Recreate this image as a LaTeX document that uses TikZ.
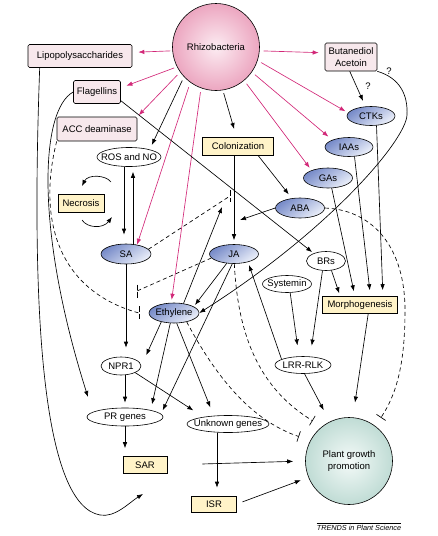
\documentclass[tikz,border=0pt]{standalone}
\usepackage{fontspec}
\setmainfont{Liberation Sans}
\usetikzlibrary{shapes.geometric,arrows.meta,calc}
\definecolor{pk}{RGB}{210,40,120}
\definecolor{pinkfill}{RGB}{247,232,236}
\definecolor{yelfill}{RGB}{255,243,200}
\definecolor{blueA}{RGB}{118,138,200}
\definecolor{blueB}{RGB}{236,240,250}
\definecolor{rzin}{RGB}{252,236,242}
\definecolor{rzout}{RGB}{236,166,192}
\definecolor{pgin}{RGB}{244,250,248}
\definecolor{pgout}{RGB}{192,220,213}
\newcommand{\zb}[1]{\makebox[0pt]{#1}}
\begin{document}
\begin{tikzpicture}[x=1pt,y=-1pt,
  font=\fontsize{9.5}{12}\selectfont,
  every node/.style={inner sep=0pt},
  bx/.style={draw, rectangle, line width=0.6pt, align=center},
  pinkbox/.style={bx, fill=pinkfill, rounded corners=1.5pt},
  yelbox/.style={bx, fill=yelfill},
  el/.style={draw, ellipse, line width=0.6pt},
  wel/.style={el, fill=white},
  blueel/.style={el, top color=blueA, bottom color=blueB, shading angle=35},
  arr/.style={-{Latex[length=6pt,width=4.5pt]}, line width=0.65pt},
  parr/.style={arr, draw=pk},
  dsh/.style={dash pattern=on 4pt off 3pt, line width=0.65pt},
  inh/.style={dsh, -{Bar[width=11pt,line width=0.65pt]}},
  barl/.style={line width=0.65pt, dash pattern=on 5.5pt off 2pt}
]
\useasboundingbox (0,0) rectangle (438,536);

% nodes
\node[circle, draw, line width=0.6pt, minimum size=87pt, inner color=rzin, outer color=rzout] (rhizo) at (216,47) {Rhizobacteria};
\node[pinkbox, minimum width=104pt, minimum height=23pt] (lps) at (80,56) {Lipopolysaccharides};
\node[pinkbox, minimum width=47pt, minimum height=23pt] (flag) at (97,92) {Flagellins};
\node[pinkbox, minimum width=80pt, minimum height=24pt] (acc) at (97,129) {ACC deaminase};
\node[pinkbox, minimum width=52pt, minimum height=28pt] (buta) at (351,57) {Butanediol\\Acetoin};
\node[blueel, minimum width=48pt, minimum height=19pt] (ctk) at (371,116) {\zb{CTKs}};
\node[blueel, minimum width=48pt, minimum height=19pt] (iaa) at (349,147) {\zb{IAAs}};
\node[blueel, minimum width=49pt, minimum height=20pt] (gas) at (328,178) {\zb{GAs}};
\node[blueel, minimum width=49pt, minimum height=20pt] (aba) at (300,208) {\zb{ABA}};
\node[yelbox, minimum width=71pt, minimum height=18pt] (colon) at (238,146) {Colonization};
\node[wel, minimum width=64pt, minimum height=19pt] (ros) at (129,157) {\zb{ROS and NO}};
\node[yelbox, minimum width=46pt, minimum height=18pt] (necro) at (81,203) {Necrosis};
\node[blueel, minimum width=50pt, minimum height=20pt] (sa) at (126,254) {\zb{SA}};
\node[blueel, minimum width=49pt, minimum height=19pt] (ja) at (234,254) {\zb{JA}};
\node[blueel, minimum width=50pt, minimum height=20pt] (eth) at (174,313) {\zb{Ethylene}};
\node[wel, minimum width=39pt, minimum height=19pt] (brs) at (326,261) {\zb{BRs}};
\node[wel, minimum width=49pt, minimum height=17pt] (sys) at (287,284) {\zb{Systemin}};
\node[yelbox, minimum width=75pt, minimum height=17pt] (morph) at (360,305) {Morphogenesis};
\node[wel, minimum width=40pt, minimum height=18pt] (npr) at (121,366) {\zb{NPR1}};
\node[wel, minimum width=76pt, minimum height=18pt] (pr) at (125,417) {\zb{PR genes}};
\node[wel, minimum width=82pt, minimum height=17pt] (unk) at (228,424) {\zb{Unknown genes}};
\node[yelbox, minimum width=44pt, minimum height=17pt] (sar) at (145,465) {SAR};
\node[yelbox, minimum width=45pt, minimum height=16pt] (isr) at (214,504) {ISR};
\node[wel, minimum width=56pt, minimum height=17pt] (lrr) at (303,365) {\zb{LRR-RLK}};
\node[circle, draw, line width=0.6pt, minimum size=87pt, inner color=pgin, outer color=pgout, align=center] (pgp) at (349,461) {Plant growth\\promotion};
\node[font=\fontsize{7.3}{8}\selectfont\itshape] (trends) at (359,528) {TRENDS in Plant Science};
\draw[line width=0.5pt] ([yshift=2pt]trends.north west) -- ([yshift=2pt]trends.north east);
\node (q1) at (368,86) {?};
\node (q2) at (389,71) {?};

% free ends
\coordinate (ethup) at (222,207);
\coordinate (jaln) at (240,220);
\coordinate (saend) at (230,196);
\coordinate (jaend) at (137,291);
\coordinate (accend) at (139,313);
\coordinate (lpsend) at (143,494);
\coordinate (flagend) at (88,397);

% pink arrows from Rhizobacteria
\draw[parr, shorten <=2pt, shorten >=6pt] (rhizo.185) -- (lps.4);
\draw[parr, shorten <=3pt, shorten >=6pt] (rhizo.207) -- (flag.10);
\draw[parr, shorten <=4pt, shorten >=2pt] (rhizo.215) -- (acc.north east);
\draw[parr, shorten <=5pt] (rhizo.234) -- (sa.40);
\draw[parr, shorten <=4pt, shorten >=3pt] (rhizo.250) -- (eth.105);
\draw[parr, shorten <=4pt, shorten >=3pt] (rhizo.310) -- (gas.155);
\draw[parr, shorten <=4pt, shorten >=5pt] (rhizo.325) -- (iaa.157);
\draw[parr, shorten <=4pt, shorten >=3pt] (rhizo.342) -- (ctk.172);
\draw[parr, shorten <=4pt, shorten >=6pt] (rhizo.355) -- (buta.171);

% black arrows
\draw[arr, shorten <=4pt, shorten >=5pt] (rhizo.223) -- (ros.20);
\draw[arr, shorten <=3pt, shorten >=8pt] (rhizo.279) -- (colon.100);
\draw[arr, shorten >=6pt] (buta.-95) -- (ctk.120);
\draw[arr] (buta.south east) .. controls (400,78) and (408,95) .. (407,115)
  .. controls (406,140) and (330,230) .. (eth.east);
\draw[arr, shorten >=2pt] (flag.-20) -- (brs.148);
\draw[arr, shorten >=4pt] (ja.north |- colon.south) -- (ja.north);
\draw[arr, shorten >=5pt] (colon.-25) -- (aba.130);
\draw[arr] (aba.west) -- (jaln);
\draw[arr] (eth.45) -- (ethup);

% ROS / SA / necrosis
\draw[arr, shorten >=9pt] ([xshift=-5pt]ros.south) -- ([xshift=-2pt]sa.north);
\draw[arr, shorten >=5pt] ([xshift=7pt]sa.north) -- ([xshift=4pt]ros.south);
\draw[arr] ([shift={(30,-21)}]necro.center) .. controls ([shift={(25,-28)}]necro.center) and ([shift={(7,-29)}]necro.center) .. ([shift={(1,-17)}]necro.center);
\draw[arr] ([shift={(1,17)}]necro.center) .. controls ([shift={(6,25)}]necro.center) and ([shift={(22,26)}]necro.center) .. ([shift={(31,14)}]necro.center);

% inhibitions (dashed)
\draw[dsh] (sa.12) -- (saend);
\draw[barl] ([yshift=6pt]saend) -- ([yshift=-6pt]saend);
\draw[dsh] (ja.190) -- (jaend);
\draw[barl] ([yshift=6.5pt]jaend) -- ([yshift=-6.5pt]jaend);
\draw[dsh] (acc.south west) .. controls (38,215) and (55,290) .. (accend);
\draw[barl] ([yshift=7pt]accend) -- ([yshift=-7pt]accend);
\draw[inh, shorten >=12pt] (eth.325) .. controls (215,375) and (250,420) .. (pgp.152);
\draw[inh, shorten >=11pt] (ja.-88) .. controls (238,340) and (262,390) .. (pgp.128);
\draw[inh, shorten >=10pt] (aba.east) .. controls (375,210) and (405,250) .. (405,310)
  .. controls (405,360) and (398,392) .. (pgp.53);

% ethylene / JA outputs
\draw[arr, shorten >=12pt] (eth.215) -- (npr.east);
\draw[arr, shorten >=6pt] (eth.250) -- (pr.15);
\draw[arr, shorten >=9pt] (eth.285) -- (unk.150);
\draw[arr, shorten >=2pt] (ja.232) -- (eth.18);
\draw[arr, shorten >=4pt] (ja.-100) -- (pr.5);
\draw[arr, shorten >=3pt] (lrr.165) -- (ja.-30);

% right cluster
\draw[arr, shorten >=11pt] (sys.-70) -- (lrr.115);
\draw[arr, shorten >=11pt] (brs.-110) -- (lrr.50);
\draw[arr, shorten >=3pt] (brs.-60) -- (morph.156);
\draw[arr, shorten >=5pt] (gas.-70) -- (morph.120);
\draw[arr, shorten >=6pt] (iaa.-60) -- (morph.40);
\draw[arr, shorten >=6pt] (ctk.-60) -- (morph.21);
\draw[arr, shorten >=15pt] (morph.-47) -- (pgp.85);
\draw[arr, shorten >=13pt] (lrr.-80) -- (pgp.116);

% lower part
\draw[arr, shorten >=9pt] (sa.south) -- (sa.south |- npr.north);
\draw[arr, shorten >=5pt] (pr.north |- npr.south) -- (pr.north);
\draw[arr, shorten >=12pt] (npr.-25) -- (unk.164);
\draw[arr, shorten >=8pt] (pr.south) -- (pr.south |- sar.north);
\draw[arr, shorten >=8pt] ([xshift=3pt]isr.north |- unk.south) -- ([xshift=3pt]isr.north);
\draw[arr, shorten <=35pt, shorten >=12pt] (sar.east) -- (pgp.west);
\draw[arr, shorten <=6pt, shorten >=8pt] (isr.east) -- (pgp.202);

% long left curves
\draw[arr] (flag.west) .. controls (40,110) and (35,230) .. (flagend);
\draw[arr] ([xshift=12pt]lps.south west) .. controls (30,330) and (45,505) .. (100,515)
  .. controls (115,518) and (130,502) .. (lpsend);
\end{tikzpicture}
\end{document}
